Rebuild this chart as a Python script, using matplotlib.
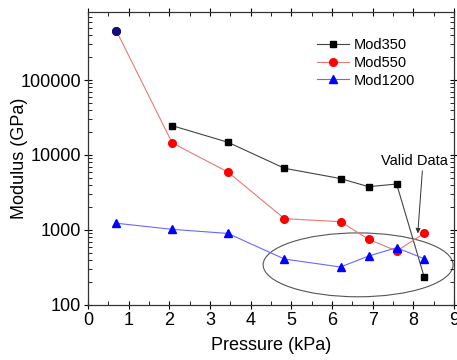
import matplotlib
matplotlib.use("Agg")
from matplotlib import pyplot as plt
from matplotlib.patches import Ellipse

plt.rcParams['font.family'] = ['Liberation Sans', 'DejaVu Sans']

# pressure (kPa)
p350 = [2.07, 3.44, 4.83, 6.21, 6.9, 7.59, 8.27]
mod350 = [24600, 14800, 6650, 4850, 3780, 4100, 234]

p550 = [0.7, 2.07, 3.44, 4.83, 6.21, 6.9, 7.59, 8.27]
mod550 = [450000, 14500, 5930, 1415, 1290, 752, 525, 903]

p1200 = [0.7, 2.07, 3.44, 4.83, 6.21, 6.9, 7.59, 8.27]
mod1200 = [1230, 1020, 900, 410, 321, 450, 580, 414]

xticks = list(range(10))
yticks = [100, 1000, 10000, 100000]

fig = plt.figure(figsize=(4.57, 3.6), dpi=100)
ax = fig.add_axes([0.1926, 0.1528, 0.8008, 0.8139])

ax.plot(p350, mod350, color='#444444', lw=0.8, marker='s', ms=5,
        mfc='black', mec='black', label='Mod350')
ax.plot(p550, mod550, color='#e87878', lw=0.8, marker='o', ms=5.5,
        mfc='#ff0000', mec='#ff0000', label='Mod550')
ax.plot(p550[:1], mod550[:1], ls='none', marker='o', ms=5.5,
        mfc='#101080', mec='#101080')
ax.plot(p1200, mod1200, color='#6868ff', lw=0.8, marker='^', ms=6,
        mfc='#0000ff', mec='#0000ff', label='Mod1200')

ax.set_yscale('log')
ax.set_xlim(0, 9)
ax.set_ylim(100, 8.07e5)
ax.set_xticks(xticks)
ax.set_xticks([x + 0.5 for x in xticks[:-1]], minor=True)
ax.set_yticks(yticks)
ax.set_yticklabels([str(v) for v in yticks])
ax.tick_params(which='both', top=True, right=True, labelsize=13)
ax.tick_params(which='major', direction='inout', length=6, width=0.8, pad=2)
ax.tick_params(which='minor', direction='in', length=3, width=0.6)
for s in ax.spines.values():
    s.set_linewidth(0.9)
    s.set_color('#333333')

ax.set_xlabel('Pressure (kPa)', fontsize=13, labelpad=6)
ax.set_ylabel('Modulus (GPa)', fontsize=13)
ax.yaxis.set_label_coords(-0.163, 0.5)

ell = Ellipse((0.738, 0.137), 0.519, 0.218, transform=ax.transAxes,
              fill=False, ec='#555555', lw=0.8)
ax.add_patch(ell)

ax.annotate('Valid Data', xy=(8.11, 900), xytext=(8.03, 8300),
            ha='center', va='center', fontsize=10.5,
            arrowprops=dict(arrowstyle='-|>', color='#333333', lw=0.7,
                            mutation_scale=7, shrinkA=0, shrinkB=0,
                            relpos=(0.62, 0.0)))

ax.legend(loc='upper right', bbox_to_anchor=(0.93, 0.955), frameon=False,
          fontsize=10.5, handlelength=2.2, labelspacing=0.25, handletextpad=0.3)

fig.savefig('out.png', dpi=100)
